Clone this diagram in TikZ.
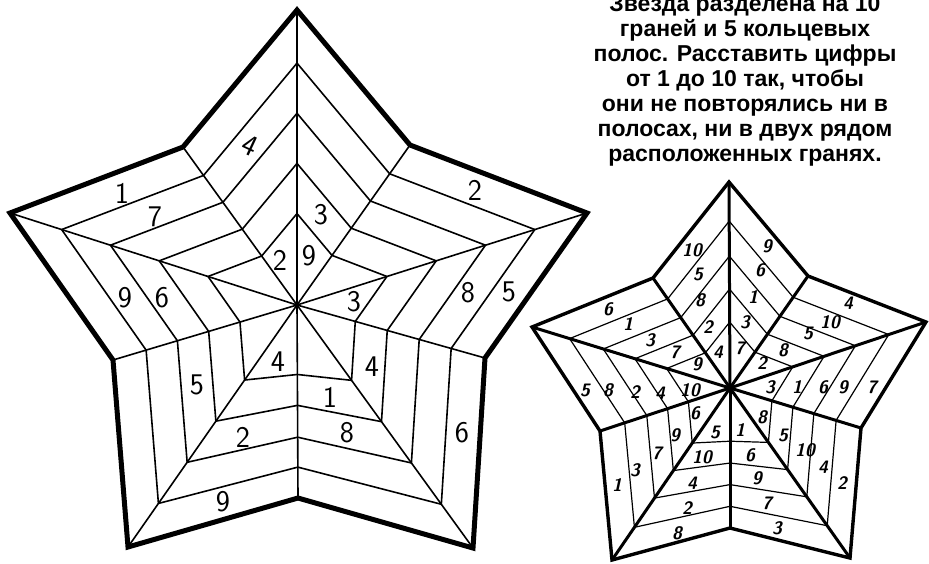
\documentclass[tikz,border=0pt]{standalone}
\usepackage{fontspec}
\newfontfamily\capfont{Liberation Sans}
\usetikzlibrary{calc}
\begin{document}
\begin{tikzpicture}[x=1pt,y=-1pt,
  bigout/.style={line width=5pt, line join=miter},
  bigthin/.style={line width=1.6pt, line join=round},
  smallout/.style={line width=3.4pt, line join=miter},
  smallray/.style={line width=3pt, line cap=round},
  smallthin/.style={line width=1.2pt, line join=round},
  bigdigit/.style={font=\sffamily\fontsize{30}{30}\selectfont, inner sep=0pt},
  smalldigit/.style={font=\sffamily\bfseries\itshape\fontsize{18}{18}\selectfont, inner sep=0pt},
  capline/.style={font=\capfont\bfseries\fontsize{23}{25}\selectfont, anchor=base, inner sep=0pt}]
\useasboundingbox (0,0) rectangle (929,563);
\clip (0,0) rectangle (929,563);
\fill[white] (0,0) rectangle (929,563);

% ---------- big star ----------
\coordinate (BC) at (297,305);
\coordinate (B0) at (297,10);
\coordinate (B1) at (410,145);
\coordinate (B2) at (587,213);
\coordinate (B3) at (485,358);
\coordinate (B4) at (473,548);
\coordinate (B5) at (298,498);
\coordinate (B6) at (128,547);
\coordinate (B7) at (113,360);
\coordinate (B8) at (10,213);
\coordinate (B9) at (183,147);

\foreach \f/\g in {0.31/0.36,0.48/0.52,0.65/0.685,0.82/0.84}
  \draw[bigthin] ($(BC)!\f!(B0)$) -- ($(BC)!\f!(B1)$) -- ($(BC)!\f!(B2)$) -- ($(BC)!\f!(B3)$) -- ($(BC)!\f!(B4)$) -- ($(BC)!\g!(B5)$) -- ($(BC)!\f!(B6)$) -- ($(BC)!\f!(B7)$) -- ($(BC)!\f!(B8)$) -- ($(BC)!\f!(B9)$) -- cycle;
\foreach \i in {0,...,9}
  \draw[bigthin] (BC) -- (B\i);
\draw[bigout] (B0) -- (B1) -- (B2) -- (B3) -- (B4) -- (B5) -- (B6) -- (B7) -- (B8) -- (B9) -- cycle;

\foreach \x/\y/\t/\r [count=\k] in {250/146/4/-25, 122/193/1/0, 155/217/7/0, 280/260/2/0, 309/256/9/0, 321/215/3/0, 475/190/2/0, 354/302/3/0, 468/293/8/0, 509/292/5/0, 125/298/9/0, 162/298/6/0, 197/385/5/0, 278/362/4/0, 330/397/1/0, 243/437/2/0, 347/433/8/0, 223/502/9/0, 372/367/4/0, 462/433/6/0}
  \node[bigdigit, rotate=\r] (bd\k) at (\x,\y) {\t};

% ---------- small star ----------
\coordinate (SC) at (730,388);
\coordinate (S0) at (729,182);
\coordinate (S1) at (808,276);
\coordinate (S2) at (926,322);
\coordinate (S3) at (861,428);
\coordinate (S4) at (850,558);
\coordinate (S5) at (730,528);
\coordinate (S6) at (612,560);
\coordinate (S7) at (600,431);
\coordinate (S8) at (532,327);
\coordinate (S9) at (653,278);

\foreach \f/\g in {0.32/0.38,0.48/0.536,0.64/0.69,0.81/0.845}
  \draw[smallthin] ($(SC)!\f!(S0)$) -- ($(SC)!\f!(S1)$) -- ($(SC)!\f!(S2)$) -- ($(SC)!\f!(S3)$) -- ($(SC)!\f!(S4)$) -- ($(SC)!\g!(S5)$) -- ($(SC)!\f!(S6)$) -- ($(SC)!\f!(S7)$) -- ($(SC)!\f!(S8)$) -- ($(SC)!\f!(S9)$) -- cycle;
\foreach \i in {0,...,9}
  \draw[smallray] (SC) -- (S\i);
\draw[smallout] (S0) -- (S1) -- (S2) -- (S3) -- (S4) -- (S5) -- (S6) -- (S7) -- (S8) -- (S9) -- cycle;

\foreach \x/\y/\t [count=\k] in {
  692/250/10, 698/274/5, 700/300/8, 708/327/2, 718/352/4,
  767/246/9, 760/270/6, 753/297/1, 745/322/3, 740/348/7,
  608/309/6, 628/324/1, 650/340/3, 675/352/7, 697/364/9,
  848/303/4, 830/322/10, 808/333/5, 783/350/8, 762/363/2,
  585/390/5, 608/390/8, 635/392/2, 660/393/4, 690/390/10,
  770/387/3, 797/387/1, 823/387/6, 843/387/9, 872/387/7,
  695/413/6, 675/435/9, 657/453/7, 635/470/3, 617/485/1,
  715/432/5, 702/457/10, 692/483/4, 687/508/2, 677/533/8,
  740/430/1, 750/455/6, 757/478/9, 767/503/7, 777/528/3,
  762/417/8, 783/435/5, 805/450/10, 823/467/4, 842/483/2}
  \node[smalldigit] (sd\k) at (\x,\y) {\t};

% ---------- caption ----------
\node[capline] (l1) at (745,11) {Звезда разделена на 10};
\node[capline] (l2) at (745,36) {граней и 5 кольцевых};
\node[capline] (l3) at (745,61) {полос. Расставить цифры};
\node[capline] (l4) at (745,86) {от 1 до 10 так, чтобы};
\node[capline] (l5) at (745,111) {они не повторялись ни в};
\node[capline] (l6) at (745,136) {полосах, ни в двух рядом};
\node[capline] (l7) at (745,161) {расположенных гранях.};
\end{tikzpicture}
\end{document}
